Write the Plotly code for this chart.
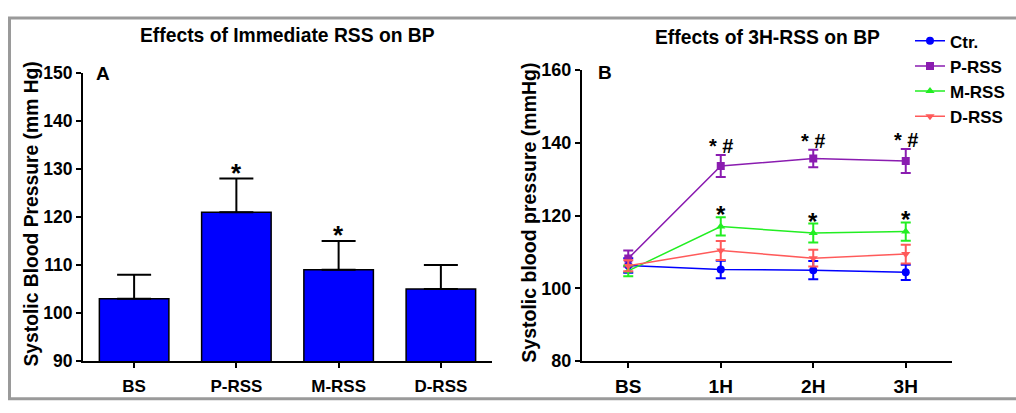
import plotly.graph_objects as go

W, H = 1016, 413

# Panel A data
cats_a = ["BS", "P-RSS", "M-RSS", "D-RSS"]
vals_a = [103, 121, 109, 105]
err_a = [5, 7, 6, 5]
sig_a = ["", "*", "*", ""]

# Panel B data
times_b = ["BS", "1H", "2H", "3H"]
ctr = [106.3, 105.2, 105.0, 104.4]
ctr_err = [2.0, 2.4, 2.5, 2.1]
p_rss = [108.2, 133.6, 135.7, 135.0]
p_err = [2.2, 3.0, 2.4, 3.3]
m_rss = [104.8, 117.0, 115.2, 115.6]
m_err = [1.5, 2.5, 2.6, 2.5]
d_rss = [106.2, 110.4, 108.3, 109.4]
d_err = [1.5, 2.6, 2.3, 2.6]
sig_p = ["* #", "* #", "* #"]
sig_m = ["*", "*", "*"]

series_b = [
    ("Ctr.", ctr, ctr_err, "#0000FF", "circle"),
    ("P-RSS", p_rss, p_err, "#8A1CB0", "square"),
    ("M-RSS", m_rss, m_err, "#22EE22", "triangle-up"),
    ("D-RSS", d_rss, d_err, "#FF5A5A", "triangle-down"),
]

FONT = "Liberation Sans, Arial, sans-serif"

def px_x(p):
    return p / W

def px_y(p):
    return 1 - p / H

fig = go.Figure()

fig.add_trace(go.Bar(
    x=cats_a, y=vals_a, width=0.68,
    marker=dict(color="#0000FF", line=dict(color="black", width=1.5)),
    error_y=dict(type="data", array=err_a, arrayminus=[0]*len(err_a),
                 color="black", thickness=2, width=17),
    xaxis="x", yaxis="y", showlegend=False,
))

for name, vals, errs, col, sym in series_b:
    fig.add_trace(go.Scatter(
        x=times_b, y=vals, name=name, mode="lines+markers",
        line=dict(color=col, width=1.5),
        marker=dict(color=col, symbol=sym, size=8),
        error_y=dict(type="data", array=errs, color=col, thickness=2, width=5),
        xaxis="x2", yaxis="y2",
    ))

def axis(size, standoff=0):
    return dict(
        showline=True, linecolor="black", linewidth=2, ticks="outside",
        ticklen=5, tickwidth=2, tickcolor="black", showgrid=False, zeroline=False,
        tickfont=dict(family=FONT, size=size, color="black", weight="bold"),
        ticklabelstandoff=standoff,
    )

fig.update_layout(
    width=W, height=H,
    margin=dict(l=0, r=0, t=0, b=0),
    paper_bgcolor="white", plot_bgcolor="white",
    font=dict(family=FONT, color="black"),
    xaxis=dict(domain=[px_x(83), px_x(492)], range=[-0.5, 3.5], anchor="y", **axis(17, 3)),
    yaxis=dict(domain=[px_y(369), px_y(66)], range=[90, 150], dtick=10, anchor="x", **axis(17.5)),
    xaxis2=dict(domain=[px_x(582), px_x(952)], range=[-0.5, 3.5], anchor="y2", **axis(19, 2)),
    yaxis2=dict(domain=[px_y(369), px_y(63)], range=[80, 160], dtick=20, anchor="x2", **axis(18)),
    legend=dict(x=px_x(910), y=px_y(14), xanchor="left", yanchor="top",
                font=dict(family=FONT, size=17, color="black", weight="bold"),
                bgcolor="rgba(0,0,0,0)", itemwidth=30, tracegroupgap=0),
)

ann = []
# Titles
ann.append(dict(x=px_x(287), y=px_y(27), xref="paper", yref="paper", text="<b>Effects of Immediate RSS on BP</b>",
                showarrow=False, font=dict(size=19.3, family=FONT), xanchor="center", yanchor="middle"))
ann.append(dict(x=px_x(767), y=px_y(29), xref="paper", yref="paper", text="<b>Effects of 3H-RSS on BP</b>",
                showarrow=False, font=dict(size=19.3, family=FONT), xanchor="center", yanchor="middle"))
# Y-axis titles
ann.append(dict(x=px_x(32), y=px_y(215), xref="paper", yref="paper", text="<b>Systolic Blood Pressure (mm Hg)</b>",
                textangle=-90, showarrow=False, font=dict(size=19.3, family=FONT), xanchor="center", yanchor="middle"))
ann.append(dict(x=px_x(529), y=px_y(213), xref="paper", yref="paper", text="<b>Systolic blood pressure (mmHg)</b>",
                textangle=-90, showarrow=False, font=dict(size=19.5, family=FONT), xanchor="center", yanchor="middle"))
# Panel letters
ann.append(dict(x=px_x(94), y=px_y(67), xref="paper", yref="paper", text="<b>A</b>",
                showarrow=False, font=dict(size=19, family=FONT), xanchor="left", yanchor="middle"))
ann.append(dict(x=px_x(596), y=px_y(66), xref="paper", yref="paper", text="<b>B</b>",
                showarrow=False, font=dict(size=19, family=FONT), xanchor="left", yanchor="middle"))

# Significance markers panel A
for c, v, e, s in zip(cats_a, vals_a, err_a, sig_a):
    if s:
        ann.append(dict(x=c, y=v + e, xref="x", yref="y", text="<b>" + s + "</b>", showarrow=False,
                        font=dict(size=26, family=FONT), xanchor="center", yanchor="bottom", yshift=-11))
# Significance markers panel B
for t, v, e, s in zip(times_b[1:], p_rss[1:], p_err[1:], sig_p):
    ann.append(dict(x=t, y=v + e, xref="x2", yref="y2", text="<b>" + s + "</b>", showarrow=False,
                    font=dict(size=20, family=FONT), xanchor="center", yanchor="bottom", yshift=-4))
for t, v, e, s in zip(times_b[1:], m_rss[1:], m_err[1:], sig_m):
    ann.append(dict(x=t, y=v + e, xref="x2", yref="y2", text="<b>" + s + "</b>", showarrow=False,
                    font=dict(size=24, family=FONT), xanchor="center", yanchor="bottom", yshift=-13))

fig.update_layout(annotations=ann)

# Gray frame
fig.add_shape(type="rect", xref="paper", yref="paper",
              x0=px_x(9.5), x1=px_x(1030), y0=px_y(408.5), y1=px_y(8.5),
              line=dict(color="#9A9A9A", width=3), fillcolor="rgba(0,0,0,0)", layer="below")

fig.write_html("out.html")
